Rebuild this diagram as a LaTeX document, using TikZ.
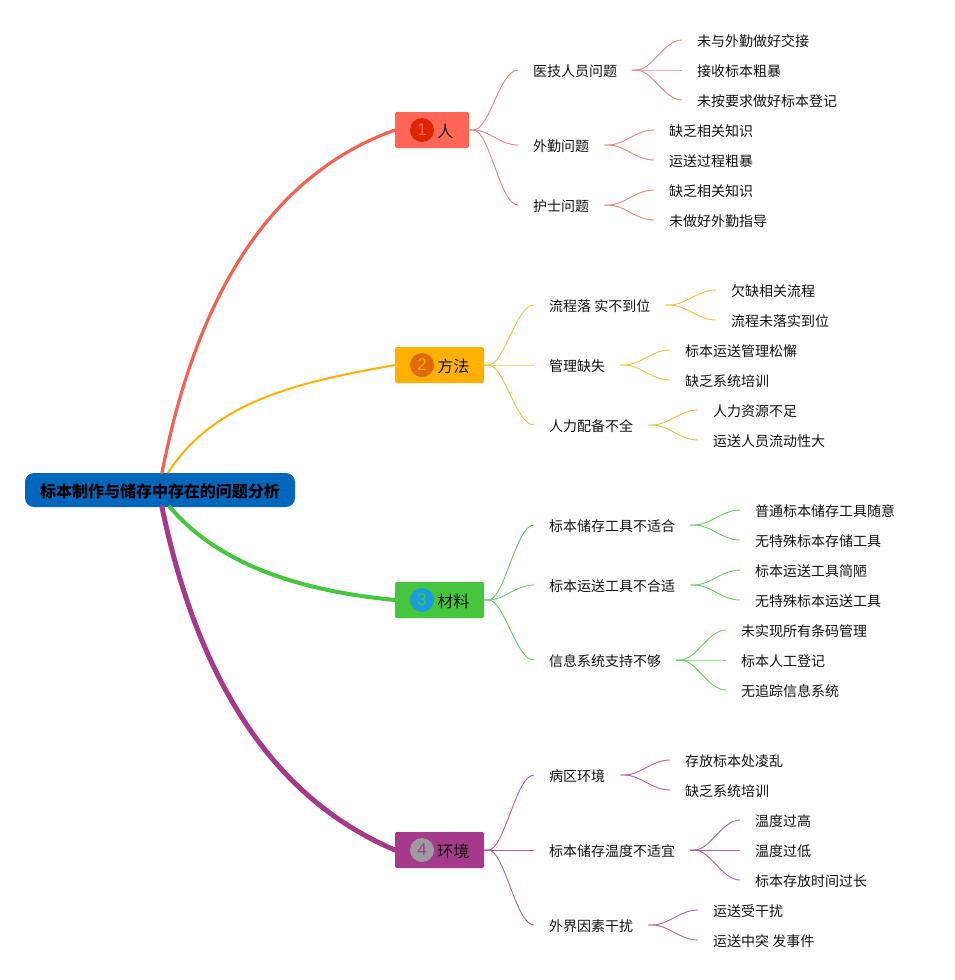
\documentclass[tikz,border=0pt]{standalone}
\usepackage{fontspec}
\setmainfont{Noto Sans CJK SC}
\newfontfamily\digitfont{Liberation Sans}
\usetikzlibrary{positioning}
\definecolor{ink}{HTML}{111111}
\definecolor{rootC}{HTML}{0067BC}
\definecolor{redA}{HTML}{FF6655}
\definecolor{redB}{HTML}{DF2500}
\definecolor{redC}{HTML}{EE8277}
\definecolor{yellowA}{HTML}{FFB000}
\definecolor{yellowB}{HTML}{E2680B}
\definecolor{yellowC}{HTML}{F6BE3C}
\definecolor{greenA}{HTML}{44C63D}
\definecolor{greenB}{HTML}{1B9CDD}
\definecolor{greenC}{HTML}{66CE60}
\definecolor{purpleA}{HTML}{A63A8A}
\definecolor{purpleB}{HTML}{9E9A9E}
\definecolor{purpleC}{HTML}{B35E9F}
\tikzset{
  rootbox/.style={rounded corners=9pt, fill=rootC, text=black, minimum width=270pt, minimum height=34pt, inner sep=0pt, text height=15.5pt, text depth=1.5pt, font=\bfseries\fontsize{16}{18}\selectfont},
  branch/.style={rounded corners=1.5pt, anchor=west, minimum height=36pt, inner sep=0pt},
  badge/.style={circle, minimum size=24pt, inner sep=0pt, font=\digitfont\fontsize{17}{19}\selectfont},
  branchtext/.style={inner sep=0pt, yshift=-1pt, text=ink, font=\fontsize{16}{18}\selectfont},
  topic/.style={anchor=west, inner xsep=15pt, inner ysep=2pt, text height=13.6pt, text depth=1pt, text=ink, font=\fontsize{14}{16}\selectfont},
  limb/.style={line cap=round},
  twig/.style={line width=0.9pt, to path={-- ++(4,0) .. controls +(16,0) and ([xshift=-18pt]\tikztotarget) .. (\tikztotarget)}}
}

\begin{document}
\begin{tikzpicture}[x=1pt,y=-1pt]
\useasboundingbox (0,0) rectangle (955,980);

\node[rootbox] (root) at (160,490) {标本制作与储存中存在的问题分析};

% main branches
\node[branch, fill=redA, minimum width=74pt] (ren) at (395,130) {};
\node[badge, fill=redB, text=redA] (renbadge) at (422,130) {1};
\node[branchtext, right=3pt of renbadge] (rentext) {人};

\node[branch, fill=yellowA, minimum width=89pt] (fangfa) at (395,365) {};
\node[badge, fill=yellowB, text=yellowA] (fangfabadge) at (422,365) {2};
\node[branchtext, right=3pt of fangfabadge] (fangfatext) {方法};

\node[branch, fill=greenA, minimum width=89pt] (cailiao) at (395,600) {};
\node[badge, fill=greenB, text=greenA] (cailiaobadge) at (422,600) {3};
\node[branchtext, right=3pt of cailiaobadge] (cailiaotext) {材料};

\node[branch, fill=purpleA, minimum width=89pt] (huanjing) at (395,850) {};
\node[badge, fill=purpleB, text=purpleA] (huanjingbadge) at (422,850) {4};
\node[branchtext, right=3pt of huanjingbadge] (huanjingtext) {环境};

\draw[limb, redA!95!black, line width=3.2pt] ([xshift=2pt]root.north) .. controls (198,288) and (275,173) .. (ren.west);
\draw[limb, yellowA, line width=2pt] ([xshift=8pt]root.north) .. controls (215,400) and (300,382) .. (fangfa.west);
\draw[limb, greenA, line width=4pt] ([xshift=10pt]root.south) .. controls (215,560) and (290,590) .. (cailiao.west);
\draw[limb, purpleA, line width=5pt] ([xshift=2pt]root.south) .. controls (199,686) and (277,800) .. (huanjing.west);

% ren
\node[topic] (renA) at (518,70) {医技人员问题};
\node[topic] (renAa) at (682,40) {未与外勤做好交接};
\node[topic] (renAb) at (682,70) {接收标本粗暴};
\node[topic] (renAc) at (682,100) {未按要求做好标本登记};
\node[topic] (renB) at (518,145) {外勤问题};
\node[topic] (renBa) at (654,130) {缺乏相关知识};
\node[topic] (renBb) at (654,160) {运送过程粗暴};
\node[topic] (renC) at (518,205) {护士问题};
\node[topic] (renCa) at (654,190) {缺乏相关知识};
\node[topic] (renCb) at (654,220) {未做好外勤指导};
\draw[twig, redC] (ren.east) to (renA.west);
\draw[twig, redC] (ren.east) to (renB.west);
\draw[twig, redC] (ren.east) to (renC.west);
\draw[twig, redC] (renA.east) to (renAa.west);
\draw[twig, redC] (renA.east) to (renAb.west);
\draw[twig, redC] (renA.east) to (renAc.west);
\draw[twig, redC] (renB.east) to (renBa.west);
\draw[twig, redC] (renB.east) to (renBb.west);
\draw[twig, redC] (renC.east) to (renCa.west);
\draw[twig, redC] (renC.east) to (renCb.west);

% fangfa
\node[topic] (fangfaA) at (534,305) {流程落 实不到位};
\node[topic] (fangfaAa) at (716,290) {欠缺相关流程};
\node[topic] (fangfaAb) at (716,320) {流程未落实到位};
\node[topic] (fangfaB) at (534,365) {管理缺失};
\node[topic] (fangfaBa) at (670,350) {标本运送管理松懈};
\node[topic] (fangfaBb) at (670,380) {缺乏系统培训};
\node[topic] (fangfaC) at (534,425) {人力配备不全};
\node[topic] (fangfaCa) at (698,410) {人力资源不足};
\node[topic] (fangfaCb) at (698,440) {运送人员流动性大};
\draw[twig, yellowC] (fangfa.east) to (fangfaA.west);
\draw[twig, yellowC] (fangfa.east) to (fangfaB.west);
\draw[twig, yellowC] (fangfa.east) to (fangfaC.west);
\draw[twig, yellowC] (fangfaA.east) to (fangfaAa.west);
\draw[twig, yellowC] (fangfaA.east) to (fangfaAb.west);
\draw[twig, yellowC] (fangfaB.east) to (fangfaBa.west);
\draw[twig, yellowC] (fangfaB.east) to (fangfaBb.west);
\draw[twig, yellowC] (fangfaC.east) to (fangfaCa.west);
\draw[twig, yellowC] (fangfaC.east) to (fangfaCb.west);

% cailiao
\node[topic] (cailiaoA) at (534,525) {标本储存工具不适合};
\node[topic] (cailiaoAa) at (740,510) {普通标本储存工具随意};
\node[topic] (cailiaoAb) at (740,540) {无特殊标本存储工具};
\node[topic] (cailiaoB) at (534,585) {标本运送工具不合适};
\node[topic] (cailiaoBa) at (740,570) {标本运送工具简陋};
\node[topic] (cailiaoBb) at (740,600) {无特殊标本运送工具};
\node[topic] (cailiaoC) at (534,660) {信息系统支持不够};
\node[topic] (cailiaoCa) at (726,630) {未实现所有条码管理};
\node[topic] (cailiaoCb) at (726,660) {标本人工登记};
\node[topic] (cailiaoCc) at (726,690) {无追踪信息系统};
\draw[twig, greenC] (cailiao.east) to (cailiaoA.west);
\draw[twig, greenC] (cailiao.east) to (cailiaoB.west);
\draw[twig, greenC] (cailiao.east) to (cailiaoC.west);
\draw[twig, greenC] (cailiaoA.east) to (cailiaoAa.west);
\draw[twig, greenC] (cailiaoA.east) to (cailiaoAb.west);
\draw[twig, greenC] (cailiaoB.east) to (cailiaoBa.west);
\draw[twig, greenC] (cailiaoB.east) to (cailiaoBb.west);
\draw[twig, greenC] (cailiaoC.east) to (cailiaoCa.west);
\draw[twig, greenC] (cailiaoC.east) to (cailiaoCb.west);
\draw[twig, greenC] (cailiaoC.east) to (cailiaoCc.west);

% huanjing
\node[topic] (huanjingA) at (534,775) {病区环境};
\node[topic] (huanjingAa) at (670,760) {存放标本处凌乱};
\node[topic] (huanjingAb) at (670,790) {缺乏系统培训};
\node[topic] (huanjingB) at (534,850) {标本储存温度不适宜};
\node[topic] (huanjingBa) at (740,820) {温度过高};
\node[topic] (huanjingBb) at (740,850) {温度过低};
\node[topic] (huanjingBc) at (740,880) {标本存放时间过长};
\node[topic] (huanjingC) at (534,925) {外界因素干扰};
\node[topic] (huanjingCa) at (698,910) {运送受干扰};
\node[topic] (huanjingCb) at (698,940) {运送中突 发事件};
\draw[twig, purpleC] (huanjing.east) to (huanjingA.west);
\draw[twig, purpleC] (huanjing.east) to (huanjingB.west);
\draw[twig, purpleC] (huanjing.east) to (huanjingC.west);
\draw[twig, purpleC] (huanjingA.east) to (huanjingAa.west);
\draw[twig, purpleC] (huanjingA.east) to (huanjingAb.west);
\draw[twig, purpleC] (huanjingB.east) to (huanjingBa.west);
\draw[twig, purpleC] (huanjingB.east) to (huanjingBb.west);
\draw[twig, purpleC] (huanjingB.east) to (huanjingBc.west);
\draw[twig, purpleC] (huanjingC.east) to (huanjingCa.west);
\draw[twig, purpleC] (huanjingC.east) to (huanjingCb.west);

\end{tikzpicture}
\end{document}
